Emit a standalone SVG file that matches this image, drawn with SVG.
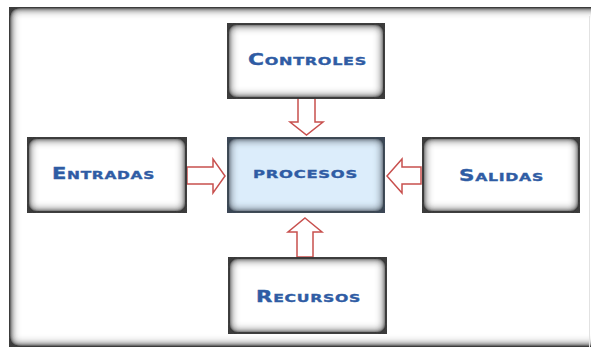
<svg xmlns="http://www.w3.org/2000/svg" width="591" height="347" viewBox="0 0 591 347">
  <style>
    .box { fill: #ffffff; stroke: #151515; stroke-width: 1.5; filter: url(#inner); }
    .proc { fill: #dcedfb; stroke: #1a1e24; stroke-width: 1.5; filter: url(#innerBlue); }
    .lbl { font-family: "DejaVu Sans", "Liberation Sans", sans-serif; font-weight: bold; font-size: 15px; font-variant: small-caps; fill: #2f5ca4; stroke: #2f5ca4; stroke-width: 0.35; letter-spacing: 0.5px; }
    .arrow { fill: #ffffff; stroke: #c8504e; stroke-width: 1.5; stroke-linejoin: miter; }
  </style>
  <defs>
    <filter id="inner" x="-30%" y="-40%" width="160%" height="180%">
      <feComponentTransfer in="SourceAlpha" result="inv">
        <feFuncA type="table" tableValues="1 0"/>
      </feComponentTransfer>
      <feGaussianBlur in="inv" stdDeviation="5.5" result="blur"/>
      <feComposite in="blur" in2="SourceAlpha" operator="in" result="inside"/>
      <feFlood flood-color="#3a3a3a" result="col"/>
      <feComposite in="col" in2="inside" operator="in" result="shadowRaw"/>
      <feComponentTransfer in="shadowRaw" result="shadow">
        <feFuncA type="linear" slope="2.3"/>
      </feComponentTransfer>
      <feMerge>
        <feMergeNode in="SourceGraphic"/>
        <feMergeNode in="shadow"/>
      </feMerge>
    </filter>
    <filter id="innerBlue" x="-30%" y="-40%" width="160%" height="180%">
      <feComponentTransfer in="SourceAlpha" result="inv">
        <feFuncA type="table" tableValues="1 0"/>
      </feComponentTransfer>
      <feGaussianBlur in="inv" stdDeviation="5.5" result="blur"/>
      <feComposite in="blur" in2="SourceAlpha" operator="in" result="inside"/>
      <feFlood flood-color="#3a4654" result="col"/>
      <feComposite in="col" in2="inside" operator="in" result="shadowRaw"/>
      <feComponentTransfer in="shadowRaw" result="shadow">
        <feFuncA type="linear" slope="2.2"/>
      </feComponentTransfer>
      <feMerge>
        <feMergeNode in="SourceGraphic"/>
        <feMergeNode in="shadow"/>
      </feMerge>
    </filter>
    <filter id="frameShadow" x="-10%" y="-15%" width="120%" height="130%">
      <feComponentTransfer in="SourceAlpha" result="inv">
        <feFuncA type="table" tableValues="1 0"/>
      </feComponentTransfer>
      <feGaussianBlur in="inv" stdDeviation="5.5" result="blur"/>
      <feComposite in="blur" in2="SourceAlpha" operator="in" result="inside"/>
      <feFlood flood-color="#3c3c3c" result="col"/>
      <feComposite in="col" in2="inside" operator="in" result="shadowRaw"/>
      <feComponentTransfer in="shadowRaw" result="shadow">
        <feFuncA type="linear" slope="2.3"/>
      </feComponentTransfer>
      <feMerge>
        <feMergeNode in="SourceGraphic"/>
        <feMergeNode in="shadow"/>
      </feMerge>
    </filter>
  </defs>

  <rect x="0" y="0" width="591" height="347" fill="#ffffff"/>
  <g id="frame">
    <rect x="9" y="7" width="620" height="340" fill="#ffffff" filter="url(#frameShadow)"/>
    <line x1="589.5" y1="16" x2="589.5" y2="347" stroke="#e2e2e2" stroke-width="1"/>
  </g>

  <g id="connectors">
    <path class="arrow" d="M298,98 L315,98 L315,122 L323,122 L306.5,135 L290,122 L298,122 Z"/>
    <path class="arrow" d="M305,218 L322,232 L313,232 L313,257 L297,257 L297,232 L288,232 Z"/>
    <path class="arrow" d="M187,167 L213,167 L213,159 L225,176 L213,193 L213,184 L187,184 Z"/>
    <path class="arrow" d="M387,176 L402,159 L402,167 L421,167 L421,184 L402,184 L402,193 Z"/>
  </g>

  <g id="controles">
    <rect class="box" x="228" y="24" width="156" height="74"/>
    <text class="lbl" x="248" y="65" textLength="119" lengthAdjust="spacingAndGlyphs">Controles</text>
  </g>
  <g id="entradas">
    <rect class="box" x="28" y="138" width="158" height="74"/>
    <text class="lbl" x="52" y="179" textLength="103" lengthAdjust="spacingAndGlyphs">Entradas</text>
  </g>
  <g id="procesos">
    <rect class="proc" x="228" y="138" width="156" height="74"/>
    <text class="lbl" x="253" y="178" textLength="105" lengthAdjust="spacingAndGlyphs">procesos</text>
  </g>
  <g id="salidas">
    <rect class="box" x="423" y="138" width="156" height="74"/>
    <text class="lbl" x="459" y="181" textLength="85" lengthAdjust="spacingAndGlyphs">Salidas</text>
  </g>
  <g id="recursos">
    <rect class="box" x="229" y="258" width="157" height="75"/>
    <text class="lbl" x="256" y="301.5" textLength="105" lengthAdjust="spacingAndGlyphs">Recursos</text>
  </g>
</svg>
